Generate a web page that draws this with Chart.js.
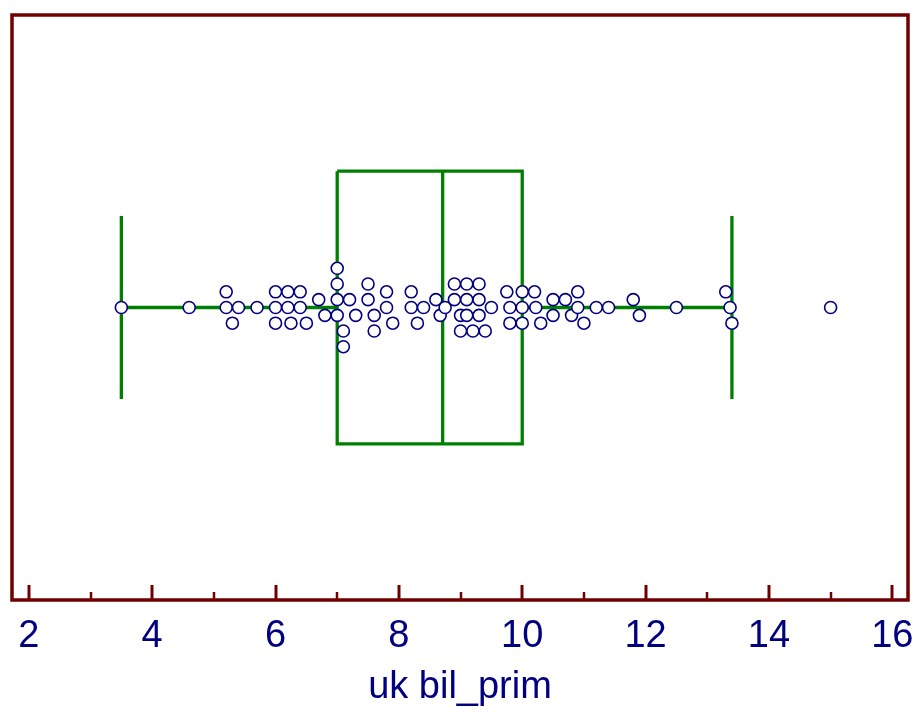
<!DOCTYPE html>
<html>
<head>
<meta charset="utf-8">
<script src="https://cdn.jsdelivr.net/npm/chart.js@4/dist/chart.umd.min.js"></script>
<style>
  html, body { margin: 0; padding: 0; background: #ffffff; }
  #wrap { width: 917px; height: 713px; }
</style>
</head>
<body>
<div id="wrap"><canvas id="c" width="917" height="713"></canvas></div>
<script>
// ---- data ----
const variableName = 'uk bil_prim';
const values = [3.5, 4.6, 5.2, 5.2, 5.3, 5.4, 5.7, 6.0, 6.0, 6.0, 6.2, 6.2, 6.25, 6.4, 6.4, 6.5,
  6.7, 6.8, 7.0, 7.0, 7.0, 7.0, 7.1, 7.1, 7.2, 7.3, 7.5, 7.5, 7.6, 7.6, 7.8, 7.8, 7.9,
  8.2, 8.2, 8.3, 8.4, 8.6, 8.67, 8.75, 8.9, 8.9, 9.0, 9.0, 9.1, 9.1, 9.1, 9.2,
  9.3, 9.3, 9.3, 9.4, 9.5, 9.75, 9.8, 9.8, 10.0, 10.0, 10.0, 10.2, 10.22, 10.3,
  10.5, 10.5, 10.7, 10.8, 10.9, 10.9, 11.0, 11.2, 11.4, 11.8, 11.9, 12.5,
  13.3, 13.37, 13.4, 15.0];
const majorTicks = [2, 4, 6, 8, 10, 12, 14, 16];
const minorTicks = [3, 5, 7, 9, 11, 13, 15];

// ---- styles / layout constants ----
const NAVY = '#000080';
const GREEN = '#008000';
const MAROON = '#700000';
const X_MIN = 1.727, X_MAX = 16.255;
const BOX_HALF = 0.466, CAP_HALF = 0.313;
const STACK_STEP = 0.0536;   // vertical spacing of stacked dots (y units)
const BIN_WIDTH = 0.12;      // dots closer than this to a bin start are stacked

// ---- box statistics computed from the values ----
const sorted = values.slice().sort((a, b) => a - b);
function quantile(p) {
  const pos = p * (sorted.length - 1);
  const lo = Math.floor(pos), hi = Math.ceil(pos);
  return sorted[lo] + (sorted[hi] - sorted[lo]) * (pos - lo);
}
const q1 = quantile(0.25), med = quantile(0.5), q3 = quantile(0.75);
const iqr = q3 - q1;
const whiskLo = sorted.find(v => v >= q1 - 1.5 * iqr);
const whiskHi = sorted.slice().reverse().find(v => v <= q3 + 1.5 * iqr);

// ---- dot-plot stacking (greedy binning) ----
const dots = [];
let bin = [];
function flush() {
  const n = bin.length;
  bin.forEach((v, i) => dots.push({ x: v, y: ((n - 1) / 2 - i) * STACK_STEP }));
  bin = [];
}
sorted.forEach(v => {
  if (bin.length && v - bin[0] > BIN_WIDTH) flush();
  bin.push(v);
});
flush();

function seg(points) {
  return {
    type: 'line', data: points, borderColor: GREEN, borderWidth: 3.3,
    pointRadius: 0, showLine: true, fill: false, order: 2, tension: 0,
    borderCapStyle: 'butt', borderJoinStyle: 'miter'
  };
}

const datasets = [
  {
    type: 'scatter', data: dots, order: 0,
    pointRadius: 6, pointBorderWidth: 1.6,
    pointBackgroundColor: '#ffffff', pointBorderColor: NAVY
  },
  seg([{x: q1, y: BOX_HALF}, {x: q3, y: BOX_HALF}, {x: q3, y: -BOX_HALF}, {x: q1, y: -BOX_HALF}, {x: q1, y: BOX_HALF}]),
  seg([{x: med, y: BOX_HALF}, {x: med, y: -BOX_HALF}]),
  seg([{x: whiskLo, y: 0}, {x: q1, y: 0}]),
  seg([{x: q3, y: 0}, {x: whiskHi, y: 0}]),
  seg([{x: whiskLo, y: CAP_HALF}, {x: whiskLo, y: -CAP_HALF}]),
  seg([{x: whiskHi, y: CAP_HALF}, {x: whiskHi, y: -CAP_HALF}])
];

const framePlugin = {
  id: 'frame',
  afterDraw(chart) {
    const { ctx, chartArea: a, scales } = chart;
    const xs = scales.x;
    ctx.save();
    ctx.strokeStyle = MAROON;
    ctx.lineCap = 'butt';
    ctx.lineWidth = 3;
    majorTicks.forEach(v => {
      const px = Math.round(xs.getPixelForValue(v));
      ctx.beginPath(); ctx.moveTo(px, a.bottom); ctx.lineTo(px, a.bottom - 15); ctx.stroke();
    });
    ctx.lineWidth = 2.5;
    minorTicks.forEach(v => {
      const px = Math.round(xs.getPixelForValue(v));
      ctx.beginPath(); ctx.moveTo(px, a.bottom); ctx.lineTo(px, a.bottom - 8); ctx.stroke();
    });
    ctx.lineWidth = 3.5;
    ctx.lineJoin = 'miter';
    ctx.strokeRect(a.left, a.top, a.right - a.left, a.bottom - a.top);
    ctx.restore();
  }
};

new Chart(document.getElementById('c'), {
  type: 'scatter',
  data: { datasets },
  options: {
    responsive: false,
    animation: false,
    events: [],
    layout: { padding: { left: 12, right: 9, top: 15, bottom: 0 } },
    plugins: { legend: { display: false }, tooltip: { enabled: false } },
    scales: {
      x: {
        type: 'linear', min: X_MIN, max: X_MAX,
        afterBuildTicks: s => { s.ticks = majorTicks.map(v => ({ value: v })); },
        afterFit: s => { s.height = 113; s.paddingLeft = 0; s.paddingRight = 0; },
        grid: { display: false, drawTicks: false },
        border: { display: false },
        ticks: {
          color: NAVY, padding: 14, maxRotation: 0, autoSkip: false,
          font: { family: '"Liberation Sans", Arial, sans-serif', size: 38 },
          callback: v => String(v)
        },
        title: {
          display: true, text: variableName, color: NAVY,
          font: { family: '"Liberation Sans", Arial, sans-serif', size: 38 },
          padding: { top: 0, bottom: 3 }
        }
      },
      y: { type: 'linear', min: -1, max: 1, display: false }
    }
  },
  plugins: [framePlugin]
});
</script>
</body>
</html>
